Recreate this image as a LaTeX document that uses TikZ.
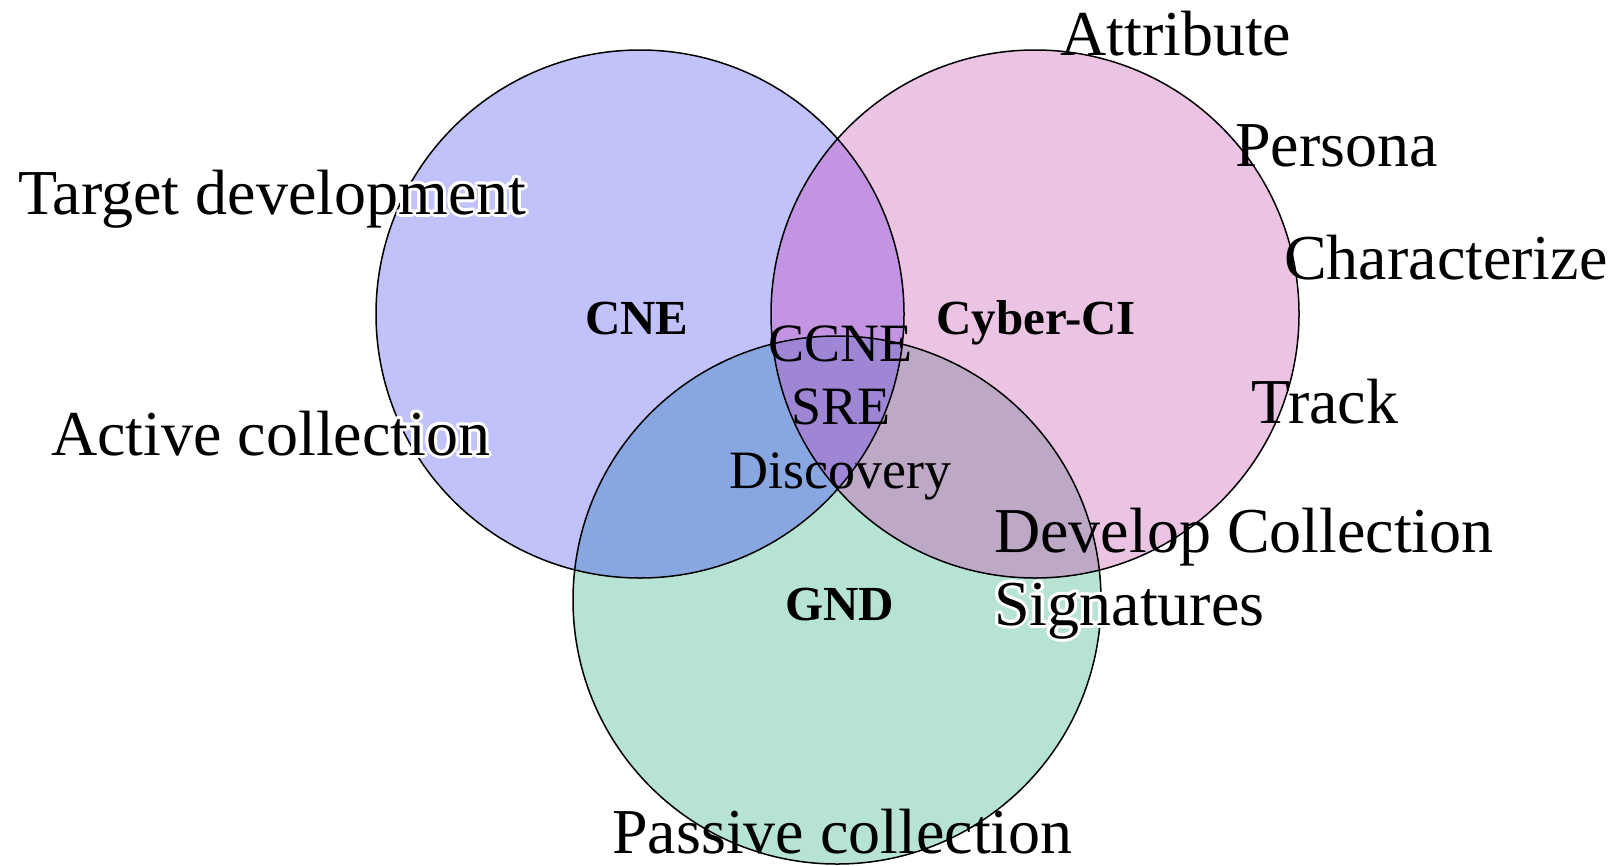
\documentclass[tikz,border=0pt]{standalone}
\usepackage{fontspec}
\setmainfont{Liberation Serif}
\usetikzlibrary{calc}
\definecolor{cA}{HTML}{C2C2FA}
\definecolor{cB}{HTML}{EBC3E3}
\definecolor{cC}{HTML}{B6E3D4}
\definecolor{cAB}{HTML}{C294E2}
\definecolor{cAC}{HTML}{88A6E0}
\definecolor{cBC}{HTML}{BDA8C5}
\definecolor{cABC}{HTML}{9E86D4}
\tikzset{
  big/.style={font=\fontsize{64}{70}\selectfont, inner sep=0pt, anchor=base west},
  mid/.style={font=\fontsize{54}{60}\selectfont, inner sep=0pt, anchor=base west},
  hd/.style={font=\fontsize{49}{55}\selectfont\bfseries, inner sep=0pt, anchor=base west},
  ring/.style={draw=black, line width=1.5pt},
}
\newcommand\mkhalo[4]{%
  \foreach \ang in {0,30,...,330}{\node[#2,text=white] (#1h\ang) at ($(#3)+(\ang:3)$) {#4};}
  \node[#2] (#1) at (#3) {#4};}
\begin{document}
\begin{tikzpicture}[x=1pt,y=-1pt]
\useasboundingbox (0,0) rectangle (1611,865);
\fill[white] (0,0) rectangle (1611,865);
\coordinate (A) at (640,314);
\coordinate (B) at (1035,314);
\coordinate (C) at (837,600);
\def\R{264pt}
\fill[cA] (A) circle[radius=\R];
\fill[cB] (B) circle[radius=\R];
\fill[cC] (C) circle[radius=\R];
\begin{scope}
  \clip (A) circle[radius=\R];
  \fill[cAB] (B) circle[radius=\R];
  \fill[cAC] (C) circle[radius=\R];
\end{scope}
\begin{scope}
  \clip (B) circle[radius=\R];
  \fill[cBC] (C) circle[radius=\R];
\end{scope}
\begin{scope}
  \clip (A) circle[radius=\R];
  \clip (B) circle[radius=\R];
  \fill[cABC] (C) circle[radius=\R];
\end{scope}
\draw[ring] (A) circle[radius=\R];
\draw[ring] (B) circle[radius=\R];
\draw[ring] (C) circle[radius=\R];

\coordinate (pTD) at (18,214);
\coordinate (pAC) at (51,455);
\coordinate (pSig) at (994,625);
\mkhalo{td}{big}{pTD}{Target development}
\mkhalo{ac}{big}{pAC}{Active collection}
\mkhalo{sig}{big}{pSig}{Signatures}

\node[hd] (cne) at (585,334) {CNE};
\node[hd] (cci) at (936,334) {Cyber-CI};
\node[hd] (gnd) at (785,620) {GND};
\node[mid] (ccne) at (768,361) {CCNE};
\node[mid] (sre) at (791,424) {SRE};
\node[mid] (disc) at (729,488) {Discovery};
\node[big] (attr) at (1060,55) {Attribute};
\node[big] (pers) at (1235,166) {Persona};
\node[big] (char) at (1284,279) {Characterize};
\node[big] (track) at (1251,423) {Track};
\node[big] (dev) at (994,552) {Develop Collection};
\node[big] (pass) at (612,853) {Passive collection};
\end{tikzpicture}
\end{document}
